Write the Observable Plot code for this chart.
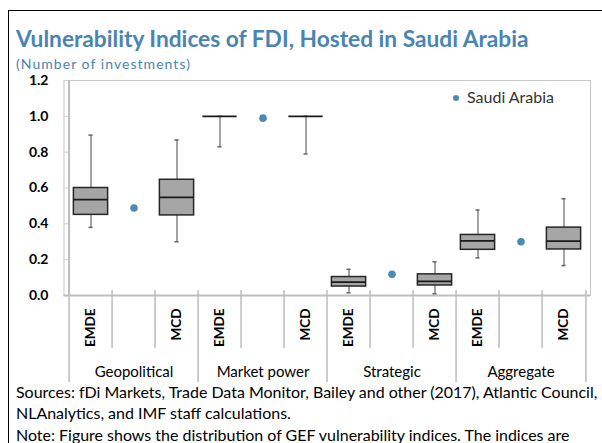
<!DOCTYPE html>
<html><head><meta charset="utf-8">
<script src="https://cdn.jsdelivr.net/npm/d3@7"></script>
<script src="https://cdn.jsdelivr.net/npm/@observablehq/plot@0.6"></script>
<style>
body{margin:0;background:#fff;}
#wrap{position:relative;width:602px;height:443px;overflow:hidden;font-family:Lato,"Open Sans",sans-serif;background:#fff;}
#border{position:absolute;left:7.5px;top:10px;right:-10px;bottom:-10px;border-left:1.5px solid #000;border-top:1.5px solid #000;}
.t{position:absolute;left:16px;white-space:nowrap;line-height:1;}
#title{top:28px;font-weight:700;font-size:19px;color:#4a84b2;}
#subtitle{top:56.5px;font-size:14px;font-weight:400;color:#4a84b2;}
.cap{font-size:13.5px;color:#000;}
#chart{position:absolute;left:0;top:76px;}
#legend{position:absolute;left:452.5px;top:89px;color:#333;white-space:nowrap;line-height:1;}
#legend span.d{display:inline-block;width:6.5px;height:6.5px;border-radius:50%;background:#4b8ab8;margin-right:8px;vertical-align:2px;}
#legtext{font-size:14px;}
</style></head>
<body>
<div id="wrap">
  <div id="border"></div>
  <div class="t" id="title">Vulnerability Indices of FDI, Hosted in Saudi Arabia</div>
  <div class="t" id="subtitle">(Number of investments)</div>
  <div id="chart"></div>
  <div id="legend"><span class="d"></span><span id="legtext">Saudi Arabia</span></div>
  <div class="t cap" id="cap1" style="top:384px">Sources: fDi Markets, Trade Data Monitor, Bailey and other (2017), Atlantic Council,</div>
  <div class="t cap" id="cap2" style="top:405px">NLAnalytics, and IMF staff calculations.</div>
  <div class="t cap" id="cap3" style="top:426.5px">Note: Figure shows the distribution of GEF vulnerability indices. The indices are</div>
</div>
<script>
// ---- data ----
const groups = ["Geopolitical", "Market power", "Strategic", "Aggregate"];
const slots = ["EMDE", "SA", "MCD"];
const slotLabels = {EMDE: "EMDE", SA: "", MCD: "MCD"};
const yTicks = [0, 0.2, 0.4, 0.6, 0.8, 1.0, 1.2];

const emdeLow  = [0.38, 0.83, 0.015, 0.21];
const emdeQ1   = [0.45, 1.00, 0.050, 0.255];
const emdeMed  = [0.535, 1.00, 0.075, 0.305];
const emdeQ3   = [0.60, 1.00, 0.103, 0.338];
const emdeHigh = [0.895, 1.00, 0.146, 0.477];

const mcdLow  = [0.30, 0.79, 0.010, 0.167];
const mcdQ1   = [0.447, 1.00, 0.056, 0.257];
const mcdMed  = [0.548, 1.00, 0.079, 0.304];
const mcdQ3   = [0.646, 1.00, 0.118, 0.379];
const mcdHigh = [0.868, 1.00, 0.188, 0.540];

const saudi = [0.488, 0.99, 0.118, 0.30];

// ---- tables built from the arrays ----
const keys = groups.flatMap(g => slots.map(s => g + "|" + s));
const boxes = groups.flatMap((g, i) => [
  {key: g + "|EMDE", low: emdeLow[i], q1: emdeQ1[i], med: emdeMed[i], q3: emdeQ3[i], high: emdeHigh[i]},
  {key: g + "|MCD", low: mcdLow[i], q1: mcdQ1[i], med: mcdMed[i], q3: mcdQ3[i], high: mcdHigh[i]}
]);
const saudiData = groups.map((g, i) => ({key: g + "|SA", value: saudi[i]}));

// layout
const W = 602, H = 312, mL = 63.5, mR = 12, mT = 4, mB = 93;
const plotW = W - mL - mR, plotH = H - mT - mB;
const bw = plotW / keys.length;
const boxInset = bw * 0.1;
const capInset = (bw - 5) / 2;

const innerSeps = keys.filter(k => !k.endsWith("|EMDE"));
const groupSeps = keys.filter(k => k.endsWith("|EMDE"));

const chart = Plot.plot({
  width: W, height: H,
  marginLeft: mL, marginRight: mR, marginTop: mT, marginBottom: mB,
  style: {fontFamily: "Lato, 'Open Sans', sans-serif", color: "#000", background: "transparent", overflow: "visible"},
  x: {type: "band", domain: keys, padding: 0, axis: null, label: null},
  y: {domain: [0, 1.2], axis: null, label: null},
  marks: [
    Plot.frame({stroke: "#c8c8c8", strokeWidth: 1}),
    Plot.ruleY(yTicks, {insetRight: plotW - 6, stroke: "#d0d0d0"}),
    Plot.ruleX([keys[0]], {dx: -bw / 2, stroke: "#bdbdbd", strokeWidth: 2}),
    Plot.ruleY([0], {stroke: "#bdbdbd", strokeWidth: 2}),
    // slot separators below the axis
    Plot.ruleX(innerSeps, {x: d => d, dx: -bw / 2, insetTop: plotH - 5, insetBottom: -53, stroke: "#bdbdbd", strokeWidth: 1.5}),
    Plot.ruleX(groupSeps, {x: d => d, dx: -bw / 2, insetTop: plotH - 5, insetBottom: -87, stroke: "#bdbdbd", strokeWidth: 1.5}),
    Plot.ruleX([keys[keys.length - 1]], {dx: bw / 2, insetTop: plotH - 5, insetBottom: -87, stroke: "#bdbdbd", strokeWidth: 1.5}),
    // whiskers
    Plot.ruleX(boxes, {x: "key", y1: "low", y2: "high", stroke: "#8c8c8c", strokeWidth: 1.6}),
    Plot.tickY(boxes, {x: "key", y: "low", insetLeft: capInset, insetRight: capInset, stroke: "#666", strokeWidth: 1.5}),
    Plot.tickY(boxes, {x: "key", y: "high", insetLeft: capInset, insetRight: capInset, stroke: "#666", strokeWidth: 1.5}),
    // boxes
    Plot.barY(boxes, {x: "key", y1: "q1", y2: "q3", insetLeft: boxInset, insetRight: boxInset, fill: "#a6a6a6", stroke: "#262626", strokeWidth: 1.5}),
    Plot.tickY(boxes, {x: "key", y: "med", insetLeft: boxInset, insetRight: boxInset, stroke: "#1a1a1a", strokeWidth: 1.8}),
    // Saudi Arabia
    Plot.dot(saudiData, {x: "key", y: "value", r: 3.8, fill: "#4b8ab8", stroke: "none"}),
    // axes
    Plot.axisY({ticks: yTicks, tickFormat: d => d.toFixed(1), tickSize: 0, tickPadding: 15.5, fontSize: 14, fontWeight: "bold", label: null}),
    Plot.axisX({tickSize: 0, tickPadding: 13, tickRotate: -90, tickFormat: k => slotLabels[k.split("|")[1]], fontSize: 13.5, fontWeight: "bold", label: null}),
    Plot.text(groups, {x: g => g + "|SA", text: d => d, frameAnchor: "bottom", dy: 77, fontSize: 15, lineAnchor: "middle"})
  ]
});
document.getElementById("chart").appendChild(chart);

// fit text widths to the reference
function fit(id, target) {
  const el = document.getElementById(id);
  const fs = parseFloat(getComputedStyle(el).fontSize);
  const w = el.getBoundingClientRect().width;
  const nfs = fs * target / w;
  el.style.fontSize = nfs + "px";
  return nfs;
}
function spread(id, target) {
  const el = document.getElementById(id);
  const w = el.getBoundingClientRect().width;
  const n = el.textContent.length;
  el.style.letterSpacing = ((target - w) / n) + "px";
}
fit("title", 513);
spread("subtitle", 175);
fit("legtext", 87);
const cfs = fit("cap1", 582);
document.getElementById("cap2").style.fontSize = cfs + "px";
document.getElementById("cap3").style.fontSize = cfs + "px";
</script>
</body></html>
